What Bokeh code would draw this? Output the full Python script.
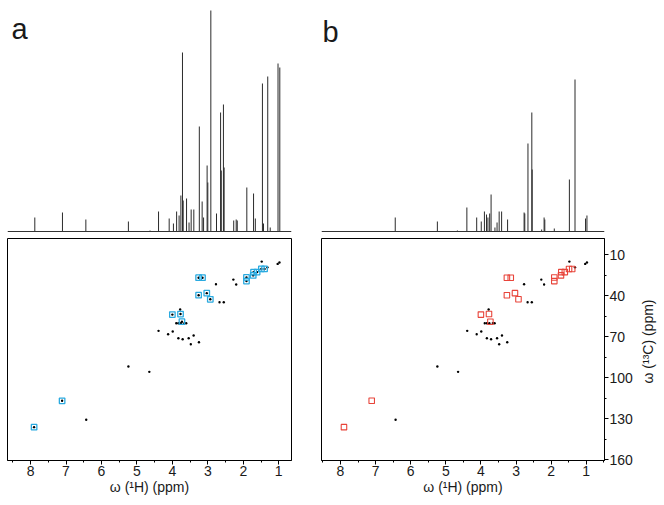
from bokeh.plotting import figure
from bokeh.layouts import row, column
from bokeh.models import Range1d, FixedTicker, Span
from bokeh.core.properties import value
from bokeh.embed import file_html
from bokeh.resources import INLINE

FONT = "Liberation Sans"

# 1D 1H spectrum, panel a (ppm, relative intensity)
SPEC_A_PPM = [7.88, 7.10, 6.44, 5.24, 4.63, 4.39, 4.09, 3.97, 3.88, 3.81, 3.76, 3.715, 3.695,
              3.60, 3.53, 3.47, 3.395, 3.24, 3.16, 3.12, 3.02, 3.00, 2.915, 2.755, 2.64, 2.62,
              2.56, 2.54, 2.27, 2.20, 2.17, 1.90, 1.71, 1.66, 1.46, 1.43, 1.31, 1.24, 1.02, 0.97]
SPEC_A_H = [14, 19, 12, 10, 1, 20, 13, 8, 20, 16, 36, 179, 31,
            33, 9, 22, 22, 105, 30, 14, 66, 49, 221, 18, 119, 61,
            127, 64, 11, 12, 11, 44, 38, 13, 148, 8, 155, 4, 168, 164]

# 1D 1H spectrum, panel b
SPEC_B_PPM = [6.44, 5.24, 4.67, 4.40, 4.12, 3.99, 3.90, 3.84, 3.80, 3.75, 3.71, 3.60, 3.54,
              3.48, 3.41, 3.24, 2.77, 2.75, 2.66, 2.55, 2.54, 2.27, 2.20, 2.18, 1.91, 1.48,
              1.32, 1.02, 0.98]
SPEC_B_H = [14, 10, 1, 24, 14, 10, 20, 17, 14, 18, 37, 4, 9,
            20, 20, 12, 19, 18, 88, 119, 62, 2, 14, 12, 3, 52,
            152, 13, 16]

# highlighted HSQC cross peaks (1H ppm, 13C ppm)
SQ_H = [7.90, 7.11, 4.00, 3.77, 3.73, 3.26, 3.03, 2.93, 3.26, 3.15, 1.91, 1.91, 1.72, 1.71,
        1.61, 1.49, 1.40]
SQ_C = [136.1, 116.8, 53.7, 53.3, 58.9, 39.5, 38.0, 42.5, 26.7, 26.7, 26.5, 29.2, 25.0, 22.6,
        22.6, 20.3, 20.3]

# other HSQC cross peaks
DOT_H = [1.48, 1.32, 1.03, 0.98, 2.28, 2.77, 2.20, 2.67, 2.55, 3.78, 3.89, 3.83, 3.76, 3.66,
         3.61, 4.39, 3.99, 4.12, 3.40, 3.83, 3.71, 3.54, 3.25, 3.48, 5.24, 4.65, 6.43]
DOT_C = [14.9, 19.1, 16.6, 15.6, 28.1, 31.5, 31.7, 44.7, 44.7, 50.0, 60.0, 60.0, 60.0, 60.0,
         60.0, 65.6, 66.1, 68.1, 69.0, 71.0, 71.7, 71.0, 73.9, 75.4, 91.7, 95.6, 130.7]

X_TICKS = [1, 2, 3, 4, 5, 6, 7, 8]
X_MINOR = [0.5, 1.5, 2.5, 3.5, 4.5, 5.5, 6.5, 7.5, 8.5]
Y_TICKS = [10, 40, 70, 100, 130, 160]
Y_MINOR = [25, 55, 85, 115, 145]

X_RANGE_A = (8.65, 0.64)
X_RANGE_B = (8.54, 0.48)
Y_RANGE = (160.5, -2)
Y_TITLE = "ω (¹³C) (ppm)"


def spectrum(ppm, h, xr, fw, left, right, letter, lx, ly):
    p = figure(frame_width=fw, frame_height=228, x_range=Range1d(*xr),
               y_range=Range1d(-5, 223), x_axis_location=None, y_axis_location=None,
               output_backend="svg", toolbar_location=None,
               min_border_left=left, min_border_right=right,
               min_border_top=8, min_border_bottom=0)
    p.grid.visible = False
    p.outline_line_color = None
    p.add_layout(Span(location=0, dimension="width", line_color="#333333", line_width=1))
    p.segment(x0=ppm, y0=0, x1=ppm, y1=h, line_color="#2b2b2b", line_width=1)
    p.text(x=[lx], y=[ly], text=[letter], text_font=value(FONT), text_font_size="29px",
           text_baseline="alphabetic", text_align="left", text_color="#1a1a1a")
    return p


def hsqc(xr, fw, left, right, right_axis, sq_color, sq_width, dots_in_squares):
    p = figure(frame_width=fw, frame_height=222, x_range=Range1d(*xr),
               y_range=Range1d(*Y_RANGE),
               y_axis_location="right" if right_axis else None,
               output_backend="svg", toolbar_location=None,
               min_border_left=left, min_border_right=right,
               min_border_top=2, min_border_bottom=0)
    p.grid.visible = False
    p.outline_line_color = "black"
    p.outline_line_width = 1
    axes = [p.xaxis[0]] + ([p.yaxis[0]] if right_axis else [])
    for ax in axes:
        ax.axis_line_color = "black"
        ax.major_tick_line_color = "black"
        ax.minor_tick_line_color = "black"
        ax.major_tick_in = 0
        ax.major_tick_out = 4
        ax.minor_tick_in = 0
        ax.minor_tick_out = 2
        ax.major_label_text_font = FONT
        ax.major_label_text_font_size = "14px"
        ax.major_label_text_color = "#1a1a1a"
        ax.axis_label_text_font = FONT
        ax.axis_label_text_font_size = "14px"
        ax.axis_label_text_font_style = "normal"
        ax.axis_label_text_color = "#1a1a1a"
    p.xaxis.ticker = FixedTicker(ticks=X_TICKS, minor_ticks=X_MINOR)
    p.xaxis.axis_label = "ω (¹H) (ppm)"
    p.xaxis.major_label_standoff = 1
    p.xaxis.axis_label_standoff = 0
    if right_axis:
        p.yaxis.ticker = FixedTicker(ticks=Y_TICKS, minor_ticks=Y_MINOR)
        p.yaxis.major_label_standoff = 1
    p.scatter(x=DOT_H, y=DOT_C, marker="circle", size=2.4, fill_color="black",
              line_color=None)
    if dots_in_squares:
        p.scatter(x=SQ_H, y=SQ_C, marker="circle", size=2.4, fill_color="black",
                  line_color=None)
    p.scatter(x=SQ_H, y=SQ_C, marker="square", size=5.5, fill_color=None,
              line_color=sq_color, line_width=sq_width)
    return p


def title_strip():
    # narrow strip holding the rotated 13C axis title (reads bottom-to-top)
    p = figure(frame_width=24, frame_height=460, x_range=Range1d(0, 24),
               y_range=Range1d(0, 460), x_axis_location=None, y_axis_location=None,
               output_backend="svg", toolbar_location=None,
               min_border_left=0, min_border_right=0, min_border_top=0,
               min_border_bottom=0)
    p.grid.visible = False
    p.outline_line_color = None
    p.text(x=[12], y=[119], text=[Y_TITLE], angle=1.5707963, text_font=value(FONT),
           text_font_size="14px", text_align="center", text_baseline="middle",
           text_color="#1a1a1a")
    return p


spec_a = spectrum(SPEC_A_PPM, SPEC_A_H, X_RANGE_A, 284, 7, 25, "a", 8.54, 203)
spec_b = spectrum(SPEC_B_PPM, SPEC_B_H, X_RANGE_B, 283, 5, 31, "b", 8.51, 200)
hsqc_a = hsqc(X_RANGE_A, 284, 7, 25, False, "#2aaae0", 1.3, True)
hsqc_b = hsqc(X_RANGE_B, 283, 5, 31, True, "#e8443a", 1.1, False)

layout = row(column(spec_a, hsqc_a), column(spec_b, hsqc_b), title_strip())

with open("out.html", "w") as f:
    f.write(file_html(layout, INLINE))
